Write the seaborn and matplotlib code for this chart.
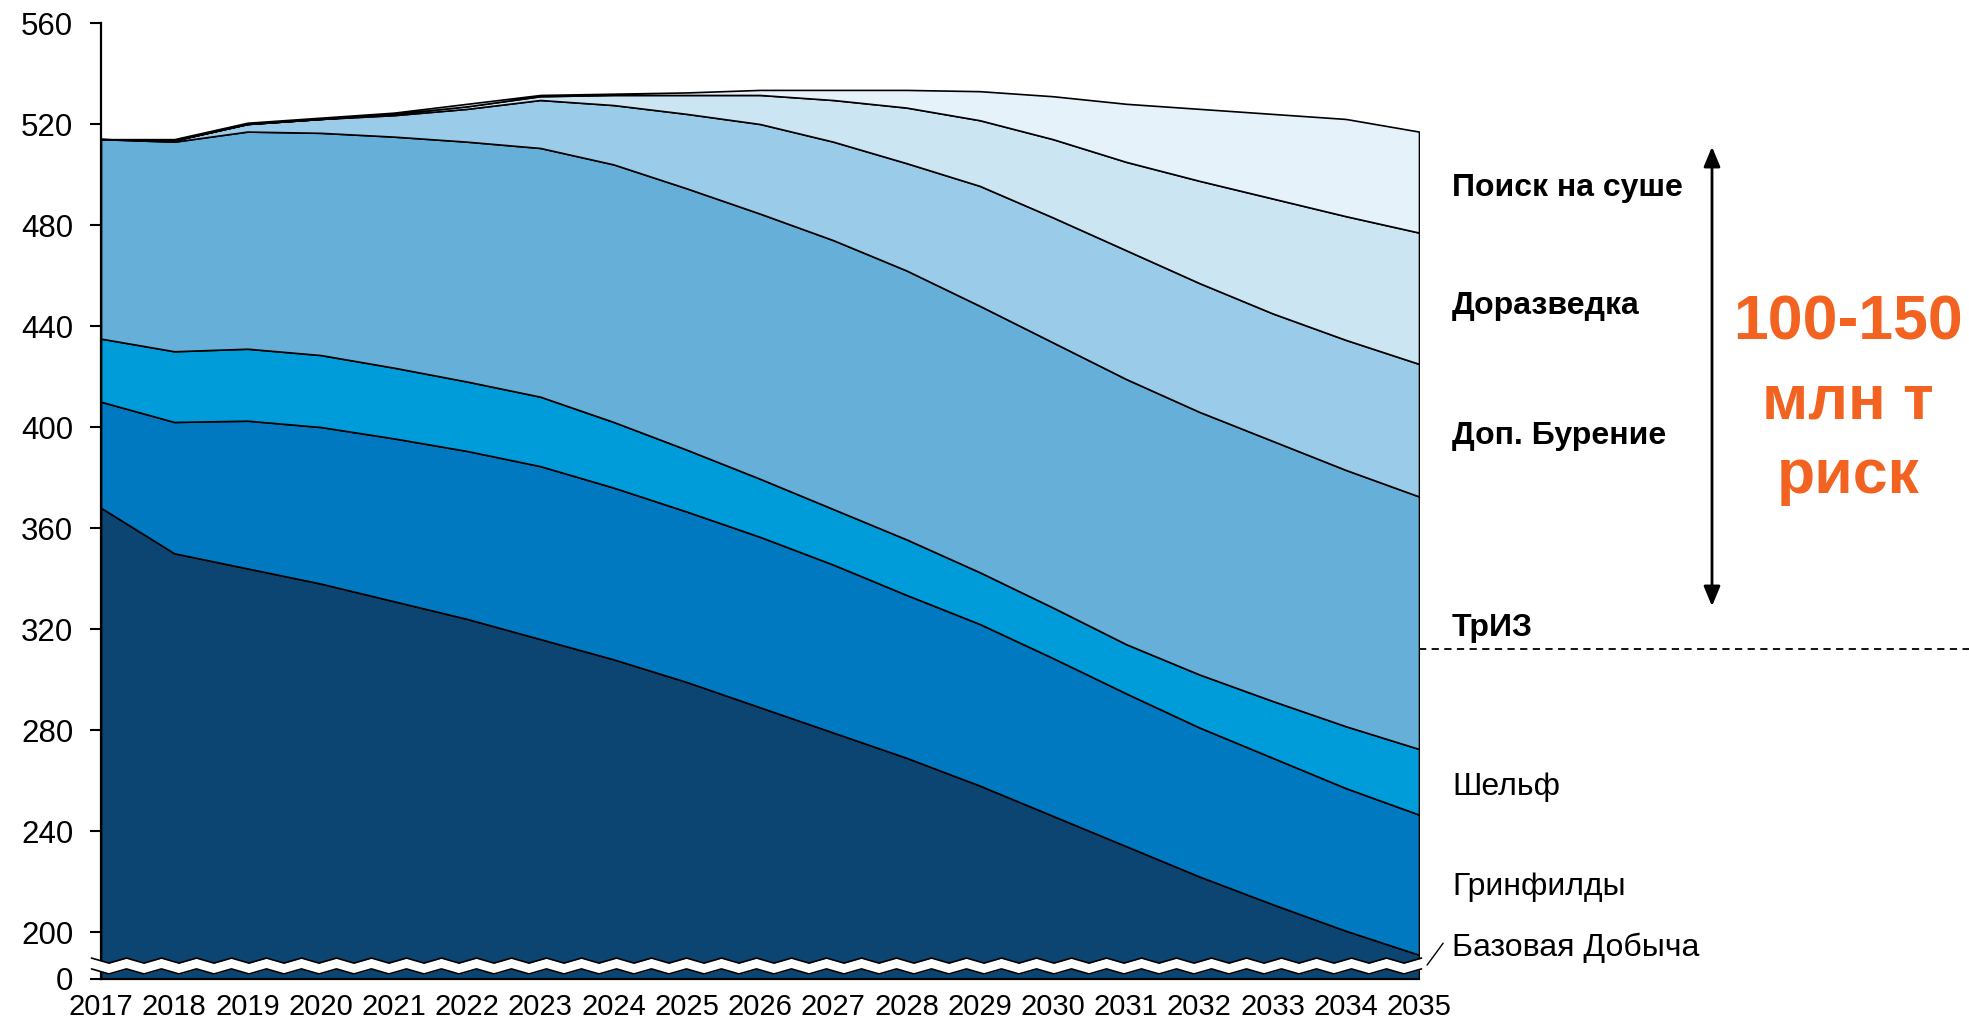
import numpy as np
import matplotlib
matplotlib.use("Agg")
import matplotlib.pyplot as plt
import seaborn as sns

# годы и слои добычи (млн т), снизу вверх
years = list(range(2017, 2036))
base = [368, 350, 344, 338, 331, 324, 316, 308, 299, 289, 279, 269, 258, 246, 234, 222, 211, 200.5, 191]
greenfields = [42, 52, 58.5, 62, 64.5, 66.5, 68.5, 68, 67.5, 67.5, 66.5, 64.5, 64, 62.5, 60.5, 59, 58, 56.5, 55.5]
shelf = [25, 28, 28.5, 28.5, 28, 27.5, 27.5, 26, 24.5, 23, 22, 22, 20.5, 20, 19.5, 21, 22.5, 24.5, 26]
triz = [79, 83, 86, 88, 91.5, 95, 98.5, 102, 103.5, 105, 106.5, 106.5, 105.5, 105, 105, 104, 103, 101.5, 100]
drilling = [0, 0.5, 3, 5.5, 8.5, 13, 19, 23.5, 29.5, 35.5, 39, 42.5, 47.5, 49.5, 51, 51, 50.5, 51.5, 52.5]
exploration = [0, 0, 0, 0, 0.5, 1, 1.5, 4, 7.5, 11.5, 16.5, 22, 26, 31, 35, 40.5, 45.5, 49, 52]
onshore = [0, 0.5, 0.5, 0.5, 0.5, 1, 0.5, 0.5, 1, 2, 4, 7, 11.5, 17, 23, 28.5, 33.5, 38.5, 40]

layer_colors = ["#0C4571", "#0079C1", "#009CD9", "#66AFD9", "#9ACBE8", "#CCE5F3", "#E5F2FA"]

labels_right = ["Поиск на суше", "Доразведка", "Доп. Бурение", "ТрИЗ", "Шельф", "Гринфилды", "Базовая Добыча"]
labels_bold = [True, True, True, True, False, False, False]
labels_y_px = [188, 306, 436, 628, 787, 887, 948]

y_ticks = [200, 240, 280, 320, 360, 400, 440, 480, 520, 560]
y_zero = 181.4  # место метки "0" после разрыва оси
triz_line = 312.2

sns.set_theme(style="white")
plt.rcParams['font.family'] = ['Liberation Sans', 'DejaVu Sans']

W, H = 1969, 1021
fig = plt.figure(figsize=(W / 100, H / 100), dpi=100)
ax = fig.add_axes([101 / W, 1 - 979 / H, 1318 / W, 956 / H])

ax.stackplot(years, base, greenfields, shelf, triz, drilling, exploration, onshore,
             colors=layer_colors, edgecolor="black", linewidth=1.2)

ax.set_xlim(2017, 2035)
ax.set_ylim(y_zero, 560)
ax.set_xticks(years)
ax.set_xticklabels([str(y) for y in years])
ax.set_yticks([y_zero] + y_ticks)
ax.set_yticklabels(["0"] + [str(v) for v in y_ticks])
ax.tick_params(axis="x", length=0, pad=10, labelsize=21, colors="black")
ax.tick_params(axis="y", length=8, width=1.5, direction="out", pad=12, labelsize=22.5,
               colors="black", left=True)
sns.despine(ax=ax)
for s in ["left", "bottom"]:
    ax.spines[s].set_color("black")
    ax.spines[s].set_linewidth(1.6)

# разрыв оси (волна)
period = 35 / 73.22
xw = np.arange(2016.87, 2035.12 + 1e-9, period / 2)
tri = np.where(np.arange(len(xw)) % 2 == 0, 1.0, -1.0)
up = 188.7 + tri
lo = 184.4 + tri
ax.fill_between(xw, lo, up, color="white", zorder=5, clip_on=False, linewidth=0)
ax.plot(xw, up, color="black", lw=1.2, zorder=6, clip_on=False)
ax.plot(xw, lo, color="black", lw=1.2, zorder=6, clip_on=False)
ax.plot([2035.11, 2035.33], [186.9, 195.6], color="black", lw=1.0, clip_on=False)

# пунктир ТрИЗ
ax.plot([2035, 2042.6], [triz_line, triz_line], color="black", lw=1.3,
        linestyle=(0, (4, 3)), clip_on=False)

for txt, bold, ypx in zip(labels_right, labels_bold, labels_y_px):
    fig.text(1452 / W, 1 - ypx / H, txt, fontsize=23, ha="left", va="center",
             fontweight="bold" if bold else "normal", color="black")

# стрелка диапазона риска
fig.add_artist(matplotlib.patches.FancyArrowPatch(
    (1712 / W, 1 - 609 / H), (1712 / W, 1 - 144 / H), transform=fig.transFigure,
    arrowstyle="<|-|>,head_length=12,head_width=5", color="black", lw=2,
    mutation_scale=1))

orange = "#F26322"
for txt, ypx in zip(["100-150", "млн т", "риск"], [323, 402, 477]):
    fig.text(1848 / W, 1 - ypx / H, txt, fontsize=45, fontweight="bold",
             color=orange, ha="center", va="center")

fig.savefig("out.png", dpi=100)
